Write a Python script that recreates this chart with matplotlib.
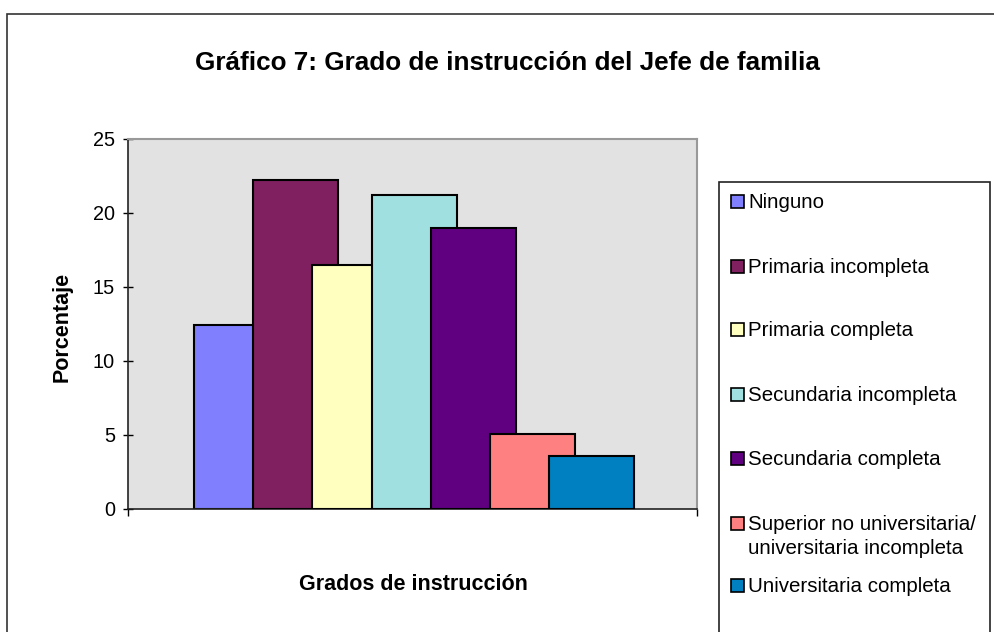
import matplotlib
matplotlib.use("Agg")
import matplotlib.pyplot as plt
from matplotlib.patches import Rectangle

plt.rcParams['font.family'] = ['Liberation Sans', 'DejaVu Sans']

categorias = ["Ninguno", "Primaria incompleta", "Primaria completa",
              "Secundaria incompleta", "Secundaria completa",
              "Superior no universitaria/\nuniversitaria incompleta",
              "Universitaria completa"]
porcentajes = [12.4, 22.2, 16.5, 21.2, 19.0, 5.1, 3.6]
colores = ["#8080FF", "#802060", "#FFFFC0", "#A0E0E0", "#600080", "#FF8080", "#0080C0"]
yticks = [0, 5, 10, 15, 20, 25]

W, H = 995, 632
fig = plt.figure(figsize=(W / 100, H / 100), dpi=100)

# marco exterior del grafico (sale por la derecha y abajo como en la captura)
fig.patches.append(Rectangle((7 / W, -0.1), 1.2, 1.1 - 14 / H, transform=fig.transFigure,
                             fill=False, edgecolor="#333333", linewidth=1.2))

ax = fig.add_axes([128 / W, (H - 509) / H, 569 / W, 370 / H])
ax.set_facecolor("#E2E2E2")

paso = 59.2 / 569
ancho = 85 / 569
n = len(porcentajes)
for i, (v, c) in enumerate(zip(porcentajes, colores)):
    x = 0.5 + (i - (n - 1) / 2) * paso
    ax.bar(x + 1.5 / 569, v, width=ancho, color=c, edgecolor="black", linewidth=1.5, zorder=2 + i)

ax.set_xlim(0, 1)
ax.set_ylim(0, 25)
ax.set_yticks(yticks)
ax.set_xticks([0, 1])
ax.set_xticklabels([])
ax.tick_params(axis='y', direction='inout', length=7, width=1, labelsize=14.3, pad=6)
ax.tick_params(axis='x', direction='out', length=5, width=1)
for s in ("top", "right"):
    ax.spines[s].set_color("#999999")
    ax.spines[s].set_linewidth(1.5)
for s in ("left", "bottom"):
    ax.spines[s].set_color("#222222")
    ax.spines[s].set_linewidth(1.2)

fig.text(507 / W, 1 - 63 / H, "Gráfico 7: Grado de instrucción del Jefe de familia",
         ha="center", va="center", fontsize=18.8, fontweight="bold")
fig.text(62 / W, 1 - 327 / H, "Porcentaje", rotation=90, ha="center", va="center",
         fontsize=15.5, fontweight="bold")
fig.text(413 / W, 1 - 584 / H, "Grados de instrucción", ha="center", va="center",
         fontsize=15.5, fontweight="bold")

# caja de leyenda
fig.patches.append(Rectangle((719 / W, -0.1), 271 / W, 0.1 + 1 - 182 / H,
                             transform=fig.transFigure, fill=False,
                             edgecolor="#222222", linewidth=1.2))
ys = [201, 266, 329, 394, 458, 523, 585]
for lab, c, y in zip(categorias, colores, ys):
    fig.patches.append(Rectangle((731 / W, 1 - (y + 7) / H), 13 / W, 13 / H,
                                 transform=fig.transFigure, facecolor=c,
                                 edgecolor="black", linewidth=1.2))
    fig.text(748 / W, 1 - (y - 8) / H, lab, ha="left", va="top", fontsize=14.8,
             linespacing=1.3)

fig.savefig("out.png", dpi=100)
